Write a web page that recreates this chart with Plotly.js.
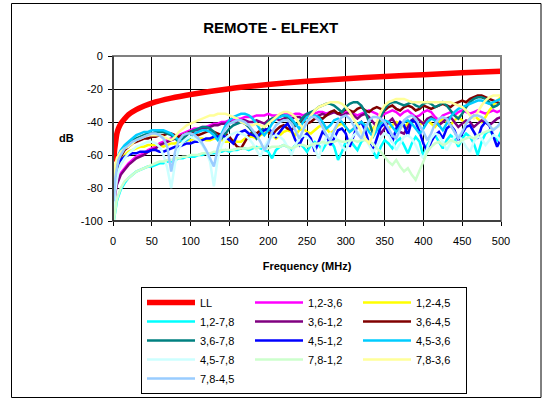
<!DOCTYPE html>
<html>
<head>
<meta charset="utf-8">
<script src="https://cdn.plot.ly/plotly-3.0.1.min.js"></script>
<style>html,body{margin:0;padding:0;background:#fff;}#chart{width:547px;height:400px;}</style>
</head>
<body>
<div id="chart"></div>
<script>
// ---- data ----
const llFreq = [1,2,3,5,7,10,15,20,30,40,50,75,100,150,200,250,300,350,400,450,500];
const llValues = [-64,-57,-53.5,-47,-44,-41,-38,-35.5,-32.5,-30.3,-28.5,-25.5,-23.3,-19.8,-17.3,-15.3,-13.8,-12.4,-11.3,-10.2,-9.3];

const freq = [1,2,3,5,7,10,15,20,25,30,35,40,45,50,55,60,65,70,75,80,85,90,95,100,105,110,115,120,125,130,135,140,145,150,155,160,165,170,175,180,185,190,195,200,205,210,215,220,225,230,235,240,245,250,255,260,265,270,275,280,285,290,295,300,305,310,315,320,325,330,335,340,345,350,355,360,365,370,375,380,385,390,395,400,405,410,415,420,425,430,435,440,445,450,455,460,465,470,475,480,485,490,495,500];

const s12_36 = [-92,-86,-82,-77,-74,
 -71,-68,-65,-63,-61,-60,-59,-57,-56,-55,
 -53,-52,-51,-50,-49,-48,-47,-46,-45,-44,
 -44,-43,-43,-42,-41,-41,-40,-40,-39,-39,
 -38,-38,-37,-37,-37,-36,-36,-36,-35,-36,
 -36,-36,-35,-35,-36,-35,-35,-36,-35,-35,
 -35,-34,-34,-35,-34,-34,-35,-34,-34,-35,
 -35,-36,-35,-34,-33,-34,-35,-37,-35,-34,
 -33,-34,-36,-34,-33,-35,-37,-36,-34,-33,
 -34,-37,-39,-36,-35,-34,-36,-34,-33,-34,
 -35,-34,-33,-34,-35,-34,-33,-34,-33];
const s12_45 = [-90,-82,-77,-71,-67,
 -63,-60,-58,-57,-56,-55,-55,-54,-54,-54,
 -54,-55,-54,-53,-53,-52,-52,-51,-51,-50,
 -50,-50,-51,-51,-50,-50,-51,-52,-52,-51,
 -52,-52,-50,-49,-49,-50,-48,-47,-46,-48,
 -50,-48,-46,-45,-46,-48,-45,-44,-46,-47,
 -45,-43,-42,-44,-47,-45,-42,-41,-43,-46,
 -44,-42,-40,-42,-45,-44,-41,-40,-42,-44,
 -42,-40,-41,-43,-41,-39,-40,-42,-40,-39,
 -41,-43,-40,-38,-40,-42,-39,-37,-39,-41,
 -38,-36,-38,-40,-37,-33,-30,-27,-25];
const s12_78 = [-100,-97,-93,-88,-85,
 -81,-77,-74,-72,-70,-69,-68,-67,-67,-66,
 -65,-65,-64,-64,-63,-62,-62,-61,-61,-61,
 -60,-60,-59,-59,-59,-58,-58,-57,-58,-57,
 -57,-56,-56,-57,-56,-55,-56,-57,-58,-62,
 -57,-55,-54,-55,-57,-54,-53,-55,-58,-54,
 -52,-54,-57,-53,-51,-55,-63,-58,-52,-51,
 -54,-57,-52,-50,-53,-58,-62,-55,-51,-53,
 -56,-52,-50,-54,-59,-53,-49,-52,-61,-54,
 -50,-48,-52,-56,-51,-48,-50,-55,-50,-47,
 -49,-53,-60,-52,-47,-45,-48,-51,-46];
const s36_12 = [-93,-87,-83,-78,-75,
 -72,-69,-66,-64,-62,-61,-60,-58,-57,-56,
 -54,-53,-52,-51,-50,-49,-48,-47,-46,-45,
 -45,-44,-44,-43,-42,-42,-41,-41,-40,-40,
 -40,-39,-39,-40,-40,-39,-40,-41,-39,-38,
 -38,-39,-38,-37,-38,-37,-37,-38,-36,-36,
 -37,-36,-35,-36,-35,-34,-35,-36,-35,-34,
 -36,-38,-36,-35,-37,-40,-43,-47,-44,-40,
 -38,-42,-46,-47,-43,-39,-37,-39,-41,-38,
 -37,-39,-42,-40,-38,-37,-40,-43,-41,-39,
 -40,-43,-41,-39,-40,-42,-40,-38,-37];
const s36_45 = [-88,-80,-75,-69,-65,
 -61,-57,-55,-53,-52,-51,-50,-50,-49,-49,
 -48,-48,-47,-47,-48,-49,-48,-47,-46,-47,
 -48,-47,-46,-45,-46,-47,-48,-47,-49,-52,
 -55,-56,-52,-48,-46,-47,-45,-44,-46,-48,
 -45,-43,-42,-44,-45,-42,-40,-39,-41,-40,
 -38,-37,-38,-36,-34,-33,-35,-34,-32,-33,
 -34,-32,-31,-33,-34,-32,-31,-32,-33,-31,
 -30,-32,-33,-31,-30,-31,-33,-32,-30,-31,
 -32,-31,-30,-29,-30,-31,-29,-28,-27,-28,
 -26,-25,-24,-24,-25,-26,-27,-28,-29];
const s36_78 = [-88,-80,-74,-67,-62,
 -58,-55,-53,-51,-50,-49,-48,-47,-47,-46,
 -46,-46,-47,-48,-50,-52,-50,-48,-46,-45,
 -44,-43,-43,-44,-46,-49,-50,-47,-44,-42,
 -41,-40,-41,-43,-46,-50,-47,-43,-40,-38,
 -37,-36,-36,-37,-39,-42,-40,-37,-35,-34,
 -33,-31,-30,-29,-29,-30,-32,-34,-31,-29,
 -28,-28,-30,-34,-40,-47,-44,-37,-32,-29,
 -28,-28,-29,-30,-29,-28,-30,-31,-29,-28,
 -29,-31,-30,-28,-30,-33,-36,-38,-35,-31,
 -28,-26,-25,-25,-26,-28,-31,-30,-28];
const s45_12 = [-80,-75,-72,-68,-65,
 -63,-61,-60,-59,-59,-58,-58,-58,-57,-57,
 -58,-58,-57,-56,-55,-55,-54,-53,-53,-52,
 -52,-51,-50,-50,-49,-49,-48,-49,-51,-53,
 -48,-46,-45,-47,-48,-49,-47,-45,-44,-46,
 -49,-46,-43,-41,-45,-51,-54,-49,-47,-50,
 -58,-52,-46,-48,-54,-50,-45,-44,-47,-55,
 -48,-42,-40,-45,-53,-57,-50,-43,-41,-46,
 -52,-44,-40,-42,-48,-39,-40,-46,-53,-58,
 -52,-48,-46,-50,-44,-42,-45,-51,-47,-43,
 -42,-46,-50,-43,-40,-42,-49,-55,-50];
const s45_36 = [-82,-75,-70,-64,-60,
 -57,-54,-52,-50,-48,-47,-46,-46,-45,-45,
 -45,-45,-46,-47,-49,-51,-52,-51,-49,-47,
 -46,-45,-45,-46,-48,-51,-47,-42,-39,-37,
 -36,-35,-35,-36,-38,-41,-45,-48,-45,-41,
 -38,-37,-36,-36,-38,-41,-44,-40,-37,-36,
 -36,-37,-40,-44,-42,-39,-38,-40,-43,-46,
 -44,-41,-40,-42,-46,-49,-45,-41,-39,-40,
 -43,-46,-43,-40,-39,-41,-44,-47,-44,-40,
 -38,-39,-42,-45,-41,-37,-34,-32,-31,-30,
 -29,-28,-27,-27,-28,-29,-28,-27,-26];
const s45_78 = [-95,-88,-82,-75,-70,
 -66,-62,-59,-57,-55,-54,-53,-52,-52,-53,
 -55,-60,-68,-80,-65,-56,-52,-50,-49,-50,
 -51,-54,-58,-64,-79,-62,-54,-50,-48,-47,
 -46,-47,-48,-50,-53,-57,-61,-55,-51,-49,
 -48,-49,-51,-55,-60,-54,-50,-48,-49,-52,
 -56,-62,-54,-49,-47,-48,-51,-55,-57,-52,
 -48,-46,-47,-50,-54,-58,-55,-50,-47,-48,
 -52,-57,-53,-49,-48,-50,-54,-59,-62,-56,
 -50,-47,-48,-52,-57,-53,-49,-48,-51,-55,
 -58,-52,-49,-50,-54,-51,-48,-49,-52];
const s78_12 = [-100,-96,-92,-87,-84,
 -80,-76,-74,-72,-70,-69,-68,-67,-66,-65,
 -64,-64,-63,-63,-62,-62,-61,-61,-60,-60,
 -60,-59,-59,-59,-58,-58,-57,-57,-57,-57,
 -56,-56,-56,-56,-55,-56,-55,-55,-56,-55,
 -55,-55,-54,-55,-56,-55,-54,-54,-55,-54,
 -53,-53,-52,-53,-52,-52,-51,-52,-52,-51,
 -51,-52,-51,-51,-52,-53,-56,-58,-61,-64,
 -66,-63,-67,-70,-68,-72,-75,-70,-64,-58,
 -55,-53,-52,-54,-53,-51,-52,-53,-51,-50,
 -49,-50,-48,-47,-46,-45,-44,-43,-42];
const s78_36 = [-78,-70,-66,-62,-60,
 -58,-56,-55,-53,-51,-50,-49,-48,-48,-48,
 -48,-49,-50,-51,-49,-46,-44,-42,-41,-40,
 -39,-38,-37,-36,-36,-35,-35,-35,-36,-37,
 -38,-40,-41,-42,-42,-41,-42,-43,-41,-39,
 -37,-35,-34,-34,-35,-37,-41,-44,-40,-36,
 -33,-31,-30,-29,-28,-28,-28,-29,-31,-34,
 -38,-42,-46,-50,-53,-48,-40,-34,-30,-28,
 -27,-26,-26,-26,-27,-28,-28,-28,-28,-28,
 -28,-28,-28,-28,-28,-28,-29,-30,-31,-33,
 -36,-38,-34,-30,-27,-25,-24,-24,-24];
const s78_45 = [-88,-80,-74,-68,-63,
 -60,-56,-54,-52,-51,-50,-49,-48,-47,-47,
 -48,-50,-55,-70,-58,-51,-48,-47,-47,-48,
 -50,-53,-57,-62,-67,-56,-48,-44,-41,-40,
 -39,-39,-40,-42,-45,-48,-52,-57,-53,-46,
 -42,-40,-39,-39,-41,-45,-50,-45,-40,-37,
 -37,-39,-43,-48,-51,-45,-40,-37,-36,-38,
 -42,-47,-50,-44,-39,-37,-37,-38,-40,-44,
 -48,-50,-44,-39,-37,-36,-38,-42,-46,-51,
 -47,-41,-38,-37,-38,-42,-46,-50,-46,-41,
 -38,-36,-36,-37,-39,-42,-45,-43,-40];

const seriesNames = ['1,2-3,6','1,2-4,5','1,2-7,8','3,6-1,2','3,6-4,5','3,6-7,8','4,5-1,2','4,5-3,6','4,5-7,8','7,8-1,2','7,8-3,6','7,8-4,5'];
const seriesValues = [s12_36,s12_45,s12_78,s36_12,s36_45,s36_78,s45_12,s45_36,s45_78,s78_12,s78_36,s78_45];
const seriesColors = ['#FF00FF','#FFFF00','#00FFFF','#800080','#800000','#008080','#0000FF','#00CCFF','#CCFFFF','#CCFFCC','#FFFF99','#99CCFF'];

const xTicks = [0,50,100,150,200,250,300,350,400,450,500];
const yTicks = [-100,-80,-60,-40,-20,0];

// ---- traces ----
const traces = [{
  x: llFreq, y: llValues, name: 'LL', type: 'scatter', mode: 'lines',
  line: {color: '#FF0000', width: 5.5, shape: 'spline', smoothing: 0.6}, hoverinfo: 'skip'
}];
seriesNames.forEach((n, i) => {
  traces.push({x: freq, y: seriesValues[i], name: n, type: 'scatter', mode: 'lines',
    line: {color: seriesColors[i], width: 2.5}, hoverinfo: 'skip'});
});

const FONT = 'Arial, "Liberation Sans", sans-serif';
const layout = {
  width: 547, height: 400,
  margin: {l: 113, r: 46, t: 56, b: 179, pad: 0, autoexpand: false},
  paper_bgcolor: '#ffffff', plot_bgcolor: '#ffffff',
  font: {family: FONT, size: 11, color: '#000'},
  showlegend: true,
  title: {text: '<b>REMOTE - ELFEXT</b>', font: {family: FONT, size: 15, color: '#000'},
          x: 0.495, xref: 'container', xanchor: 'center', y: 1 - 28/400, yref: 'container', yanchor: 'middle'},
  xaxis: {range: [0, 500], tickvals: xTicks, ticktext: xTicks.map(String), ticks: 'outside', ticklen: 4,
          tickcolor: '#000', showline: true, linecolor: '#000', linewidth: 1, showgrid: true,
          gridcolor: '#000', gridwidth: 1, zeroline: false, ticklabelstandoff: 6,
          tickfont: {family: FONT, size: 11, color: '#000'},
          title: {text: '<b>Frequency (MHz)</b>', font: {family: FONT, size: 11, color: '#000'}, standoff: 16},
          fixedrange: true, automargin: false},
  yaxis: {range: [-100, 0], tickvals: yTicks, ticktext: yTicks.map(String), ticks: 'outside', ticklen: 4,
          tickcolor: '#000', showline: true, linecolor: '#000', linewidth: 1, showgrid: true,
          gridcolor: '#000', gridwidth: 1, zeroline: false, ticklabelstandoff: 3,
          tickfont: {family: FONT, size: 11, color: '#000'}, fixedrange: true, automargin: false},
  legend: {orientation: 'h', x: (141-113)/388, y: (221-287)/165, xanchor: 'left', yanchor: 'top',
           bordercolor: '#000', borderwidth: 1, bgcolor: '#fff', font: {family: FONT, size: 11, color: '#000'},
           entrywidth: 45, entrywidthmode: 'pixels', itemwidth: 48, traceorder: 'normal'},
  annotations: [{text: '<b>dB</b>', xref: 'paper', yref: 'paper', x: (66-113)/388, y: 0.503,
                 xanchor: 'center', yanchor: 'middle', showarrow: false, font: {family: FONT, size: 11, color: '#000'}}],
  shapes: [
    {type: 'rect', xref: 'paper', yref: 'paper', x0: 0, x1: 1, y0: 0, y1: 1, line: {color: '#808080', width: 2}, layer: 'above'},
    {type: 'line', xref: 'paper', yref: 'paper', x0: 0, x1: 0, y0: 0, y1: 1, line: {color: '#000', width: 1}, layer: 'above'},
    {type: 'line', xref: 'paper', yref: 'paper', x0: 0, x1: 1, y0: 0, y1: 0, line: {color: '#000', width: 1}, layer: 'above'},
    {type: 'rect', xref: 'paper', yref: 'paper', x0: (11.5-113)/388, x1: (541-113)/388, y0: (221-397.5)/165, y1: (221-3.5)/165,
     line: {color: '#000', width: 1}, layer: 'below'}
  ]
};

Plotly.newPlot('chart', traces, layout, {staticPlot: true, displayModeBar: false});
</script>
</body>
</html>
